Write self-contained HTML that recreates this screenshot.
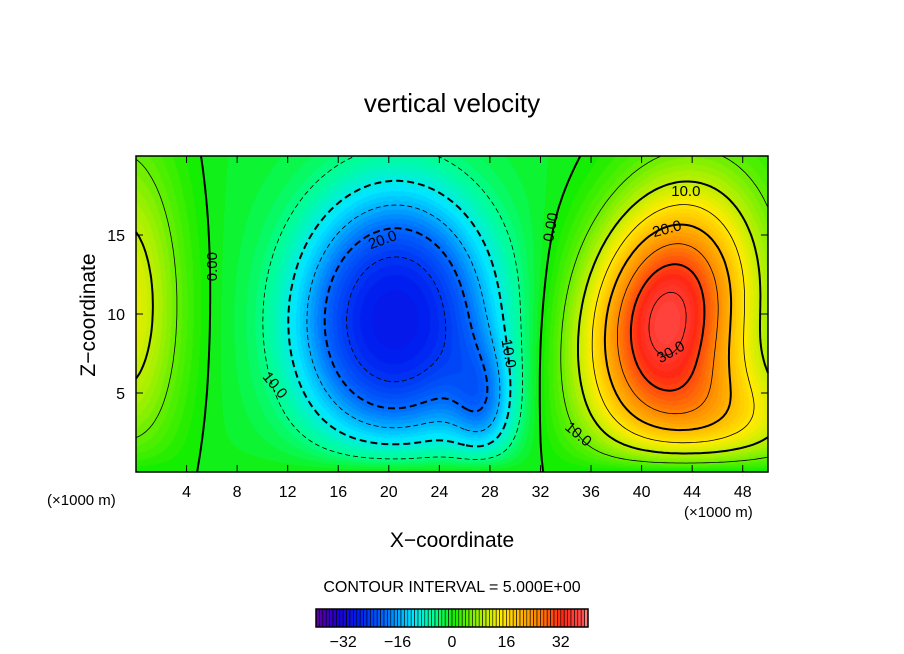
<!DOCTYPE html>
<html><head><meta charset="utf-8"><style>
body{margin:0;background:#fff;width:904px;height:654px;overflow:hidden;font-family:"Liberation Sans",sans-serif}
#wrap{position:relative;width:904px;height:654px}
canvas{position:absolute;left:136px;top:156px}
svg{position:absolute;left:0;top:0}
</style></head><body><div id="wrap">
<canvas id="cv" width="632" height="316"></canvas>
<svg id="sv" width="904" height="654"></svg>
</div>
<script>
// field model: blobs (data)
const blobX=[20.5,27.5,42,47,-1,20];
const blobZ=[9.6,4,9.8,3,10.5,10];
const blobAmp=[-25.5,-12,37,13,14,-3];
const blobSx=[6.1,1.8,4.3,5,3.3,12];
const blobSz=[6.4,2.8,5.6,2.8,7,12];
const blobTilt=[0.15,0,0.45,0,0,0];
const blobK=[1.36,1,1,1,1,1];
const xTicks=[4,8,12,16,20,24,28,32,36,40,44,48];
const zTicks=[5,10,15];
const cbTicks=[-32,-16,0,16,32];
const levels=[-35,-30,-25,-20,-15,-10,-5,0,5,10,15,20,25,30,35];
const X0=136,X1=768,Y0=472,Y1=156;
const sx=x=>X0+(x/50)*(X1-X0), sy=z=>Y0-(z/20)*(Y0-Y1);
function field(x,z){let v=0;for(let i=0;i<blobX.length;i++){const dx=x-blobX[i],dz=z-blobZ[i],c=Math.cos(blobTilt[i]),s=Math.sin(blobTilt[i]);const u=dx*c-dz*s,w=dx*s+dz*c;const q=u*u/(blobSx[i]*blobSx[i])+w*w/(blobSz[i]*blobSz[i]);v+=blobAmp[i]*Math.exp(-0.5*Math.pow(q,blobK[i]));}return v*(1-Math.exp(-z/1.2));}
const stops=[[-40,[90,0,160]],[-34,[30,0,210]],[-28,[0,30,240]],[-20,[0,110,255]],[-12,[0,230,255]],[-6,[0,255,150]],[0,[20,238,0]],[8,[170,240,0]],[14,[255,235,0]],[24,[255,140,0]],[32,[255,40,20]],[38,[255,80,80]],[40,[255,170,170]]];
function col(v){v=Math.max(-40,Math.min(40,v));v=Math.floor(v);for(let i=0;i<stops.length-1;i++){const a=stops[i],b=stops[i+1];if(v<=b[0]){const t=(v-a[0])/(b[0]-a[0]);return a[1].map((c,k)=>Math.round(c+(b[1][k]-c)*t));}}return stops[stops.length-1][1];}
const cv=document.getElementById('cv'),ctx=cv.getContext('2d');const img=ctx.createImageData(632,316);
for(let j=0;j<316;j++)for(let i=0;i<632;i++){const c=col(field((i+0.5)/632*50,(316-j-0.5)/316*20));const p=(j*632+i)*4;img.data[p]=c[0];img.data[p+1]=c[1];img.data[p+2]=c[2];img.data[p+3]=255;}
ctx.putImageData(img,0,0);
const NS='http://www.w3.org/2000/svg',sv=document.getElementById('sv');
function el(t,a,p){const e=document.createElementNS(NS,t);for(const k in a)e.setAttribute(k,a[k]);(p||sv).appendChild(e);return e;}
const NX=200,NZ=80,dx=50/NX,dz=20/NZ;const G=[];for(let j=0;j<=NZ;j++){G.push([]);for(let i=0;i<=NX;i++)G[j].push(field(i*dx,Math.max(j*dz,0.001)));}
const cg=el('g',{});
function chain(segs){const adj=new Map();const key=p=>p[0].toFixed(2)+','+p[1].toFixed(2);segs.forEach((s,i)=>{[0,1].forEach(e=>{const k=key(s[e]);if(!adj.has(k))adj.set(k,[]);adj.get(k).push([i,e]);});});
const used=new Array(segs.length).fill(false);const lines=[];
for(let i=0;i<segs.length;i++){if(used[i])continue;used[i]=true;let line=[segs[i][0],segs[i][1]];
for(let dir=0;dir<2;dir++){let go=true;while(go){go=false;const end=line[line.length-1];const c=adj.get(key(end))||[];for(const [si,e] of c){if(!used[si]){used[si]=true;line.push(segs[si][1-e]);go=true;break;}}}line.reverse();}
lines.push(line);}return lines;}
levels.forEach(L=>{const segs=[];for(let j=0;j<NZ;j++)for(let i=0;i<NX;i++){const v=[G[j][i],G[j][i+1],G[j+1][i+1],G[j+1][i]];const P=[[i,j],[i+1,j],[i+1,j+1],[i,j+1]];const pts=[];for(let e=0;e<4;e++){const a=v[e],b=v[(e+1)%4];if((a<L)!==(b<L)){const t=(L-a)/(b-a);const pa=P[e],pb=P[(e+1)%4];pts.push([(pa[0]+(pb[0]-pa[0])*t),(pa[1]+(pb[1]-pa[1])*t)]);}}
for(let k=0;k+1<pts.length;k+=2)segs.push([pts[k],pts[k+1]]);}
let d='';chain(segs).forEach(line=>{line.forEach((p,n)=>{d+=(n?'L':'M')+sx(p[0]*dx).toFixed(1)+' '+sy(p[1]*dz).toFixed(1);});});
const major=L%10===0;const p=el('path',{d:d,fill:'none',stroke:'#000','stroke-width':major?2:0.8},cg);if(L<0)p.setAttribute('stroke-dasharray',major?'7 4':'5 3');
});
const labs=[['0.00',6,13,-90],['0.00',32.8,15.5,-80],['20.0',19.5,14.7,-20],['10.0',11,5.5,50],['10.0',29.5,7.5,80],['10.0',43.5,17.8,0],['20.0',42,15.4,-15],['30.0',42.3,7.6,-30],['10.0',35,2.4,40]];
labs.forEach(l=>{const X=sx(l[1]),Y=sy(l[2]);const g=el('g',{transform:`rotate(${l[3]} ${X} ${Y})`});const t=el('text',{x:X,y:Y+5,'font-size':15,'text-anchor':'middle'},g);t.textContent=l[0];});
const fr=el('rect',{x:X0,y:Y1,width:X1-X0,height:Y0-Y1,fill:'none',stroke:'#000','stroke-width':1.5});
xTicks.forEach(v=>{el('line',{x1:sx(v),x2:sx(v),y1:Y0,y2:Y0-7,stroke:'#000'});el('line',{x1:sx(v),x2:sx(v),y1:Y1,y2:Y1+7,stroke:'#000'});const t=el('text',{x:sx(v),y:497,'font-size':16,'text-anchor':'middle'});t.textContent=v;});
zTicks.forEach(v=>{el('line',{x1:X0,x2:X0+7,y1:sy(v),y2:sy(v),stroke:'#000'});el('line',{x1:X1,x2:X1-7,y1:sy(v),y2:sy(v),stroke:'#000'});const t=el('text',{x:125,y:sy(v)+6,'font-size':16,'text-anchor':'end'});t.textContent=v;});
function txt(s,x,y,fs,name,extra){const t=el('text',Object.assign({x:x,y:y,'font-size':fs},extra||{}));t.textContent=s;return t;}
txt('vertical velocity',452,112,26,'chart-title',{'text-anchor':'middle'});
txt('(×1000 m)',47,505,15,'x-unit-left');
txt('(×1000 m)',684,517,15,'x-unit-right');
txt('X−coordinate',452,547,21,'x-axis-title',{'text-anchor':'middle'});
txt('Z−coordinate',95,315,21,'z-axis-title',{'text-anchor':'middle',transform:'rotate(-90 95 315)'});
txt('CONTOUR INTERVAL = 5.000E+00',452,592,16,'contour-interval-note',{'text-anchor':'middle'});
const cb=el('g',{});
const CB0=316,CB1=588,cbv=x=>CB0+(x+40)/80*(CB1-CB0);
for(let v=-40;v<40;v++){const c=col(v+0.5);el('rect',{x:cbv(v),y:609,width:(CB1-CB0)/80,height:18,fill:`rgb(${c})`,stroke:'#000','stroke-width':0.6},cb);}
el('rect',{x:CB0,y:609,width:CB1-CB0,height:18,fill:'none',stroke:'#000','stroke-width':1.5},cb);
cbTicks.forEach(v=>{const t=el('text',{x:cbv(v),y:647,'font-size':16,'text-anchor':'middle'},cb);t.textContent=v<0?'−'+(-v):v;});
</script></body></html>
